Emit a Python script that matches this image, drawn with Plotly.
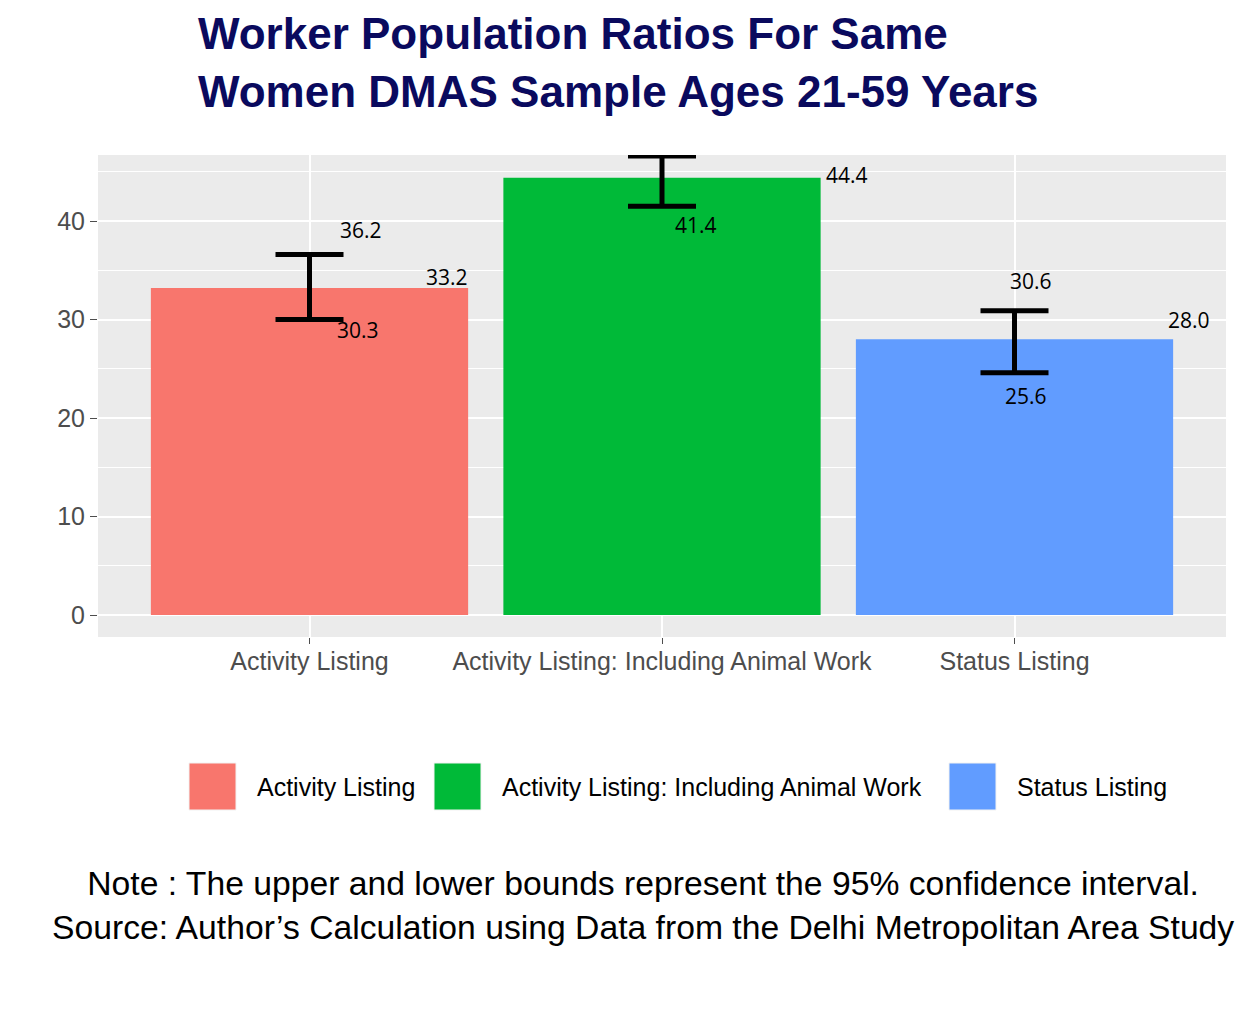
import plotly.graph_objects as go

categories = ["Activity Listing", "Activity Listing: Including Animal Work", "Status Listing"]
wpr = [33.2, 44.4, 28.0]
ci_upper = [36.2, 47.5, 30.6]
ci_lower = [30.3, 41.4, 25.6]
# whisker ends as they are drawn in the source picture
whisker_hi = [36.6, 46.6, 30.9]
whisker_lo = [30.0, 41.5, 24.6]
colors = ["#F8766D", "#00BA38", "#619CFF"]

title_lines = ["Worker Population Ratios For Same", "Women DMAS Sample Ages 21-59 Years"]
note_lines = [
    "Note : The upper and lower bounds represent the 95% confidence interval.",
    "Source: Author\u2019s Calculation using Data from the Delhi Metropolitan Area Study",
]

# the html body has an 8px margin, so page pixels = figure pixels + 8
OFF = 8
W, H = 1245 - 2 * OFF, 1014 - 2 * OFF
# plot area in page pixels (left, top, right, bottom)
L, T, R, B = 98, 155, 1226, 637


def px(x):
    return (x - L) / (R - L)


def py(y):
    return (B - y) / (B - T)


fig = go.Figure()
fig.add_trace(
    go.Bar(
        x=categories,
        y=wpr,
        marker=dict(color=colors, line=dict(width=0)),
        error_y=dict(
            type="data",
            symmetric=False,
            array=[h - v for h, v in zip(whisker_hi, wpr)],
            arrayminus=[v - l for v, l in zip(wpr, whisker_lo)],
            color="black",
            thickness=5,
            width=34,
        ),
        showlegend=False,
        hoverinfo="skip",
    )
)

lab_font = dict(family="Open Sans, sans-serif", size=21, color="black")
val_shift = [(137, 11), (185, 3), (174, 19)]
hi_shift = [(51, 28), (48, 10), (16, 33)]
lo_shift = [(48, -13), (34, -18), (11, -33)]

for i, cat in enumerate(categories):
    for val, (dx, dy) in [
        (wpr[i], val_shift[i]),
        (ci_upper[i], hi_shift[i]),
        (ci_lower[i], lo_shift[i]),
    ]:
        fig.add_annotation(
            x=cat, y=val, xref="x", yref="y",
            text=f"{val:.1f}", showarrow=False,
            xshift=dx, yshift=dy, font=lab_font,
        )

# legend drawn by hand: big square keys like the original
key_x = [189, 434, 949]
for i, cat in enumerate(categories):
    x0 = key_x[i]
    fig.add_shape(
        type="rect", xref="paper", yref="paper",
        x0=px(x0), x1=px(x0 + 47), y0=py(810), y1=py(763),
        fillcolor=colors[i], line=dict(color="#F2F2F2", width=1),
    )
    fig.add_annotation(
        x=px(x0 + 66), y=py(787), xref="paper", yref="paper",
        xanchor="left", yanchor="middle", showarrow=False, text=cat,
        font=dict(family="Liberation Sans, Arial, sans-serif", size=25, color="black"),
    )

# title: one annotation per line, the first one tucked right under the top edge
for line, y in zip(title_lines, [OFF, OFF + 58]):
    fig.add_annotation(
        x=px(197), y=py(y), xref="paper", yref="paper",
        xanchor="left", yanchor="top", showarrow=False, text=line,
        borderpad=0,
        font=dict(family="Liberation Sans, Arial, sans-serif", size=44,
                  color="#0A0A5E", weight="bold"),
    )

fig.add_annotation(
    x=px(643), y=py(905), xref="paper", yref="paper",
    xanchor="center", yanchor="middle", align="center", showarrow=False,
    text="<br>".join(note_lines),
    font=dict(family="Liberation Sans, Arial, sans-serif", size=33.7, color="black"),
)

fig.update_layout(
    width=W,
    height=H,
    margin=dict(l=L - OFF, r=W - (R - OFF), t=T - OFF, b=H - (B - OFF), autoexpand=False),
    paper_bgcolor="white",
    plot_bgcolor="#EBEBEB",
    bargap=0.1,
    font=dict(family="Liberation Sans, Arial, sans-serif", size=25, color="#4D4D4D"),
)
fig.update_xaxes(
    type="category",
    range=[-0.6, 2.6],
    showgrid=True, gridcolor="white", gridwidth=1.6,
    ticks="outside", ticklen=6, tickcolor="#4D4D4D", tickwidth=1,
    ticklabelstandoff=-4,
    tickfont=dict(size=25, color="#4D4D4D"),
    zeroline=False, showline=False,
)
fig.update_yaxes(
    range=[-2.23, 46.7],
    tickvals=[0, 10, 20, 30, 40],
    showgrid=True, gridcolor="white", gridwidth=1.6,
    minor=dict(tickvals=[5, 15, 25, 35, 45], showgrid=True, gridcolor="white", gridwidth=0.8),
    ticks="outside", ticklen=7, tickcolor="#4D4D4D", tickwidth=1,
    tickfont=dict(size=25, color="#4D4D4D"),
    zeroline=False, showline=False,
)

fig.write_html("out.html")
